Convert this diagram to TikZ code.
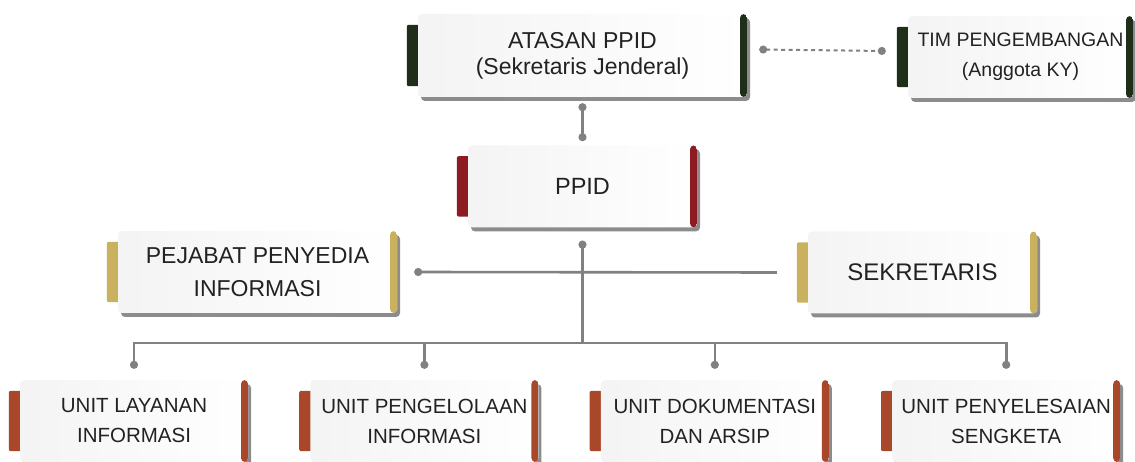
\documentclass[tikz,border=0pt]{standalone}
\usepackage{fontspec}
\setmainfont{Liberation Sans}
\usetikzlibrary{calc,positioning,arrows.meta,shadows,backgrounds}
\definecolor{kygreen}{RGB}{31,46,24}
\definecolor{kyred}{RGB}{142,27,34}
\definecolor{kygold}{RGB}{201,177,96}
\definecolor{kyrust}{RGB}{168,71,42}
\definecolor{kyline}{RGB}{128,128,133}
\definecolor{kytext}{RGB}{34,34,34}
\tikzset{
  orgbox/.style={inner sep=0pt,align=center,text=kytext,rounded corners=4pt,
                 left color=gray!9,right color=white,
                 drop shadow={shadow xshift=3pt,shadow yshift=-4pt,fill=black,opacity=0.45},
                 path picture={\fill[#1] ([xshift=-7pt]path picture bounding box.north east)
                               rectangle (path picture bounding box.south east);}},
  conn/.style={kyline,line width=2.6pt},
  dot/.tip={Circle[length=8pt]}
}

\begin{document}
\begin{tikzpicture}[x=1pt,y=-1pt,
  unit/.style={orgbox=kyrust,minimum width=228,minimum height=82,
               font=\fontsize{20.5}{30}\selectfont},
  side/.style={orgbox=kygold,minimum height=82,font=\fontsize{23}{33}\selectfont}]
  \useasboundingbox (0,0) rectangle (1135,462);
  \node[orgbox=kygreen,minimum width=329,minimum height=83,
        font=\fontsize{23}{26}\selectfont] (atasan) at (582.5,55.5)
        {ATASAN PPID\\(Sekretaris Jenderal)};
  \node[orgbox=kygreen,minimum width=225,minimum height=82,
        font=\fontsize{19.5}{30}\selectfont] (tim) at (1020.5,57)
        {TIM PENGEMBANGAN\\(Anggota KY)};
  \node[orgbox=kyred,minimum width=229,minimum height=82,
        font=\fontsize{23.5}{30}\selectfont,below=48pt of atasan] (ppid) {PPID};
  \node[side,minimum width=279] (pejabat) at (257.5,272) {PEJABAT PENYEDIA\\INFORMASI};
  \node[side,minimum width=229,font=\fontsize{24}{30}\selectfont] (sekretaris)
        at (922.5,272.5) {SEKRETARIS};
  \node[unit] (u1) at (134,421) {UNIT LAYANAN\\INFORMASI};
  \node[unit,right=62pt of u1] (u2) {UNIT PENGELOLAAN\\INFORMASI};
  \node[unit,right=62pt of u2] (u3) {UNIT DOKUMENTASI\\DAN ARSIP};
  \node[unit,right=63pt of u3] (u4) {UNIT PENYELESAIAN\\SENGKETA};
  % coloured tabs on the left
  \begin{scope}[on background layer]
    \foreach \n/\c in {atasan/kygreen,tim/kygreen,ppid/kyred,pejabat/kygold,
                       sekretaris/kygold,u1/kyrust,u2/kyrust,u3/kyrust,u4/kyrust}
      \fill[\c,rounded corners=2pt] ([xshift=-11pt,yshift=-11pt]\n.north west)
            rectangle ([xshift=2pt,yshift=11pt]\n.south west);
  \end{scope}
  % connectors
  \coordinate (busy) at (0,343);
  \draw[conn,{dot}-{dot}] ([yshift=-6pt]atasan.south) -- ([yshift=4pt]ppid.north);
  \draw[kyline,line width=2pt,dash pattern=on 4pt off 3.5pt,{dot}-{dot}]
       ([xshift=12pt,yshift=6pt]atasan.east) -- ([xshift=-22pt,yshift=6pt]tim.west);
  \draw[conn,{dot}-] ([xshift=17pt]pejabat.east) -- ([xshift=-31pt]sekretaris.west);
  \draw[conn,{dot}-] ([yshift=-13pt]ppid.south) -- (ppid.south |- busy);
  \draw[conn,{dot}-{dot}] ([yshift=11pt]u1.north) -- (u1.north |- busy)
       -- (u4.north |- busy) -- ([yshift=11pt]u4.north);
  \foreach \u in {u2,u3}
    \draw[conn,-{dot}] (\u.north |- busy) -- ([yshift=11pt]\u.north);
\end{tikzpicture}
\end{document}
